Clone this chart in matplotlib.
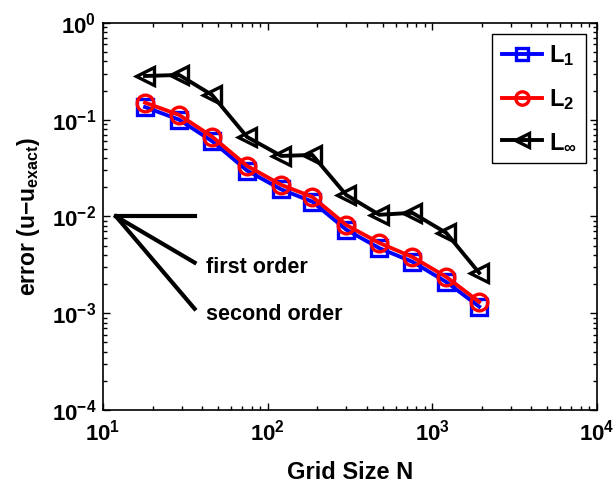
"""Convergence plot: error norms versus grid size."""

import matplotlib
matplotlib.use("Agg")
import matplotlib.pyplot as plt
from matplotlib.ticker import NullFormatter, LogLocator

plt.rcParams["font.family"] = ["Liberation Sans", "DejaVu Sans"]
plt.rcParams["font.weight"] = "bold"
plt.rcParams["mathtext.fontset"] = "custom"
plt.rcParams["mathtext.rm"] = "Liberation Sans:bold"
plt.rcParams["mathtext.bf"] = "Liberation Sans:bold"
plt.rcParams["mathtext.it"] = "Liberation Sans:bold"

# data
grid_n = [18, 29, 46, 75, 121, 187, 300, 477, 757, 1217, 1928]
err_l1 = [0.135, 0.100, 0.060, 0.0298, 0.0190, 0.0142, 0.0073, 0.0047, 0.0034, 0.0021, 0.00117]
err_l2 = [0.150, 0.112, 0.0668, 0.0333, 0.0212, 0.0159, 0.00817, 0.00532, 0.00381, 0.00237, 0.00131]
err_linf = [0.283, 0.290, 0.180, 0.0663, 0.0422, 0.0432, 0.0167, 0.0104, 0.0109, 0.00675, 0.00261]

series_labels = [r"L$_{\mathbf{1}}$", r"L$_{\mathbf{2}}$", r"L$_{\mathbf{\infty}}$"]

# order-of-accuracy guide
guide_x = [12, 36]
guide_flat = [1e-2, 1e-2]
guide_first = [1e-2, 1e-2 / 3]
guide_second = [1e-2, 1e-2 / 9]
guide_text = ["first order", "second order"]
guide_text_pos = [(42, 3.0e-3), (42, 9.6e-4)]

xticks = [1e1, 1e2, 1e3, 1e4]
xticklabels = [r"$\mathbf{10^{1}}$", r"$\mathbf{10^{2}}$", r"$\mathbf{10^{3}}$", r"$\mathbf{10^{4}}$"]
yticks = [1e-4, 1e-3, 1e-2, 1e-1, 1e0]
yticklabels = [r"$\mathbf{10^{-4}}$", r"$\mathbf{10^{-3}}$", r"$\mathbf{10^{-2}}$",
               r"$\mathbf{10^{-1}}$", r"$\mathbf{10^{0}}$"]

fig = plt.figure(figsize=(6.15, 4.88), dpi=100)
ax = fig.add_axes([0.1675, 0.160, 0.803, 0.793])

lw = 2.8
ax.loglog(grid_n, err_l1, "s-", color="blue", lw=lw, ms=11, mew=2.4,
          mfc="none", label=series_labels[0])
ax.loglog(grid_n, err_l2, "o-", color="red", lw=lw, ms=12, mew=2.4,
          mfc="none", label=series_labels[1])
ax.loglog(grid_n, err_linf, "<-", color="black", lw=lw, ms=13, mew=2.4,
          mfc="none", label=series_labels[2])

for gy in (guide_flat, guide_first, guide_second):
    ax.plot(guide_x, gy, color="black", lw=3)
for txt, (tx, ty) in zip(guide_text, guide_text_pos):
    ax.text(tx, ty, txt, fontsize=15.5, fontweight="bold", va="center", ha="left")

ax.set_xlim(1e1, 1e4)
ax.set_ylim(1e-4, 1e0)
ax.set_xticks(xticks)
ax.set_xticklabels(xticklabels)
ax.set_yticks(yticks)
ax.set_yticklabels(yticklabels)
ax.xaxis.set_minor_locator(LogLocator(base=10, subs=range(2, 10), numticks=20))
ax.yaxis.set_minor_locator(LogLocator(base=10, subs=range(2, 10), numticks=20))
ax.xaxis.set_minor_formatter(NullFormatter())
ax.yaxis.set_minor_formatter(NullFormatter())

ax.tick_params(which="both", direction="in", top=True, right=True, labelsize=16, width=1)
ax.tick_params(which="major", length=5)
ax.tick_params(which="minor", length=3)
ax.tick_params(axis="x", pad=7)
ax.tick_params(axis="y", pad=5)
for sp in ax.spines.values():
    sp.set_linewidth(1.2)

ax.set_xlabel("Grid Size N", fontsize=17, fontweight="bold", labelpad=11)
ax.set_ylabel("error (u\u2212u$_{\\mathbf{exact}}$)", fontsize=16.5, fontweight="bold", labelpad=7)

leg = ax.legend(loc="upper right", fontsize=17, fancybox=False, framealpha=1,
                edgecolor="black", handlelength=1.7, labelspacing=0.8,
                borderaxespad=0.45, handletextpad=0.3, borderpad=0.4,
                markerscale=0.8)
leg.get_frame().set_linewidth(1.0)

fig.savefig("out.png", dpi=100)
